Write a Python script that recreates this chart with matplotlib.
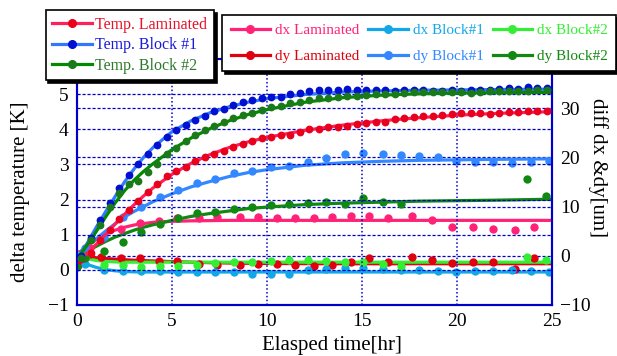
import matplotlib
matplotlib.use("Agg")
import matplotlib.pyplot as plt
from matplotlib.lines import Line2D
import numpy as np

plt.rcParams['font.family'] = ['Liberation Serif', 'DejaVu Serif']

# =========================
# temperature (left axis, K), sampled every 0.5 hr
# =========================
t_temp = [0.22, 0.72, 1.22, 1.72, 2.22, 2.72, 3.22, 3.72, 4.22, 4.72,
          5.22, 5.72, 6.22, 6.72, 7.22, 7.72, 8.22, 8.72, 9.22, 9.72,
          10.22, 10.72, 11.22, 11.72, 12.22, 12.72, 13.22, 13.72, 14.22, 14.72,
          15.22, 15.72, 16.22, 16.72, 17.22, 17.72, 18.22, 18.72, 19.22, 19.72,
          20.22, 20.72, 21.22, 21.72, 22.22, 22.72, 23.22, 23.72, 24.22, 24.72]

temp_lam = [0.30, 0.48, 0.85, 1.14, 1.45, 1.69, 1.97, 2.22, 2.45, 2.68,
            2.82, 2.93, 3.10, 3.21, 3.30, 3.38, 3.50, 3.59, 3.68, 3.74,
            3.79, 3.84, 3.85, 3.93, 4.01, 4.02, 4.06, 4.07, 4.10, 4.14,
            4.17, 4.20, 4.21, 4.29, 4.31, 4.35, 4.38, 4.37, 4.42, 4.44,
            4.45, 4.47, 4.47, 4.44, 4.47, 4.48, 4.48, 4.53, 4.52, 4.52]
temp_b1 = [0.40, 0.90, 1.42, 1.89, 2.34, 2.70, 3.00, 3.30, 3.54, 3.77,
           3.97, 4.11, 4.27, 4.39, 4.52, 4.59, 4.68, 4.78, 4.83, 4.88,
           4.91, 4.93, 5.01, 5.04, 5.09, 5.12, 5.12, 5.11, 5.14, 5.11,
           5.11, 5.13, 5.11, 5.10, 5.13, 5.12, 5.12, 5.08, 5.10, 5.11,
           5.10, 5.11, 5.12, 5.13, 5.16, 5.18, 5.16, 5.19, 5.18, 5.18]
temp_b2 = [0.35, 0.85, 1.28, 1.78, 2.19, 2.45, 2.54, 2.77, 3.01, 3.29,
           3.48, 3.68, 3.83, 3.97, 4.10, 4.20, 4.32, 4.40, 4.47, 4.56,
           4.63, 4.67, 4.74, 4.78, 4.82, 4.88, 4.90, 4.91, 4.95, 4.95,
           4.97, 4.99, 5.00, 5.01, 5.02, 5.05, 5.05, 5.05, 5.07, 5.07,
           5.05, 5.02, 5.07, 5.09, 5.09, 5.09, 5.10, 5.09, 5.11, 5.12]

# =========================
# displacement (right axis, um)
# =========================
t_lam = [0.04, 0.70, 1.25, 2.33, 3.33, 4.30, 5.28, 6.40, 7.39, 8.56,
         9.54, 10.51, 11.47, 12.45, 13.42, 14.40, 15.38, 16.37, 17.63, 18.70,
         19.76, 20.86, 21.91, 23.06, 24.06]
dx_lam = [0.3, 1.5, 3.45, 5.5, 6.6, 7.0, 7.6, 7.65, 7.8, 7.85,
          7.85, 7.65, 7.65, 7.6, 7.85, 8.0, 8.0, 7.65, 8.0, 7.2,
          5.8, 5.8, 5.4, 5.3, 5.95]
dy_lam = [-1.8, 0.34, -0.34, -0.47, -0.47, -1.0, -1.0, -1.62, -1.83, -1.96,
          -1.70, -1.70, -1.83, -2.05, -1.83, -1.29, -0.35, -1.29, -0.2, -0.95,
          -1.49, -1.29, -1.22, -2.64, -0.47]

t_b1 = [0.41, 1.43, 2.42, 3.38, 4.35, 5.32, 6.32, 7.28, 8.24, 9.22,
        10.19, 11.17, 12.14, 13.13, 14.10, 15.07, 16.08, 17.05, 18.02, 18.98,
        19.96, 20.95, 21.91, 22.90, 23.87, 24.86]
dx_b1 = [-1.6, -2.8, -3.0, -3.1, -3.0, -3.2, -3.2, -3.38, -3.32, -3.73,
         -3.73, -3.73, -2.98, -2.64, -2.5, -2.55, -2.71, -2.9, -2.98, -3.18,
         -3.32, -3.18, -3.18, -2.98, -3.05, -3.32]
dy_b1 = [1.55, 3.9, 7.8, 10.0, 11.9, 13.3, 14.8, 15.6, 16.8, 17.3,
         18.0, 18.3, 19.0, 19.8, 20.6, 20.8, 20.7, 20.4, 20.2, 20.0,
         19.3, 19.0, 19.0, 18.8, 19.0, 19.3]

t_b2 = [0.0, 0.41, 1.43, 2.42, 3.38, 4.35, 5.32, 6.32, 7.28, 8.24,
        9.22, 10.19, 11.17, 12.14, 13.13, 14.10, 15.07, 16.08, 17.05, 23.70,
        24.70]
dx_b2 = [0.1, -0.34, -1.83, -1.96, -2.37, -2.17, -2.17, -1.83, -1.49, -1.35,
         -1.29, -1.02, -0.95, -0.81, -1.1, -1.3, -1.2, -1.7, -2.05, -0.3,
         -0.9]
dy_b2 = [-2.2, -0.47, 1.0, 2.78, 4.8, 6.4, 7.6, 8.7, 9.0, 9.5,
         10.0, 10.4, 10.5, 10.7, 10.9, 10.5, 11.7, 11.0, 10.6, 15.6,
         12.2]

# =========================
# fitted curves
# =========================
t_fit = [0, 0.5, 1, 1.5, 2, 2.5, 3, 3.5, 4, 5, 6, 7, 8, 9, 10, 12, 14, 16, 18, 20, 22, 25]
fit_temp_lam = [0.25, 0.45, 0.72, 1.0, 1.3, 1.58, 1.85, 2.1, 2.33, 2.72, 3.03, 3.28, 3.48,
                3.64, 3.77, 3.97, 4.12, 4.24, 4.33, 4.4, 4.45, 4.5]
fit_temp_b1 = [0.3, 0.72, 1.2, 1.65, 2.08, 2.5, 2.87, 3.2, 3.48, 3.93, 4.24, 4.47, 4.64,
               4.77, 4.87, 4.99, 5.06, 5.09, 5.11, 5.12, 5.13, 5.14]
fit_temp_b2 = [0.3, 0.68, 1.08, 1.5, 1.9, 2.25, 2.55, 2.8, 3.02, 3.42, 3.75, 4.02, 4.24,
               4.42, 4.56, 4.77, 4.9, 4.97, 5.01, 5.03, 5.04, 5.05]
fit_dx_lam = [0.3, 1.9, 3.3, 4.4, 5.2, 5.8, 6.25, 6.55, 6.8, 7.0, 7.1, 7.15, 7.2,
              7.2, 7.2, 7.2, 7.2, 7.2, 7.2, 7.2, 7.2, 7.2]
fit_dy_lam = [0.2, -0.15, -0.4, -0.55, -0.68, -0.8, -0.9, -0.98, -1.05, -1.18, -1.3, -1.4,
              -1.47, -1.52, -1.56, -1.6, -1.62, -1.62, -1.62, -1.62, -1.62, -1.62]
fit_dx_b1 = [-0.8, -1.7, -2.35, -2.8, -3.05, -3.2, -3.27, -3.3, -3.3, -3.3, -3.3, -3.3,
             -3.3, -3.3, -3.3, -3.3, -3.3, -3.3, -3.3, -3.3, -3.3, -3.3]
fit_dy_b1 = [0.2, 1.8, 3.4, 5.0, 6.5, 7.9, 9.0, 10.0, 11.0, 12.6, 14.0, 15.1, 16.1,
             16.9, 17.5, 18.4, 18.9, 19.2, 19.4, 19.5, 19.6, 19.7]
fit_dx_b2 = [0.0, -0.55, -0.95, -1.15, -1.25, -1.3, -1.3, -1.3, -1.3, -1.3, -1.3, -1.3,
             -1.3, -1.3, -1.3, -1.3, -1.3, -1.3, -1.3, -1.3, -1.3, -1.3]
fit_dy_b2 = [-0.5, 0.8, 1.9, 2.9, 3.8, 4.5, 5.2, 5.8, 6.3, 7.2, 8.0, 8.6, 9.1,
             9.6, 9.9, 10.4, 10.7, 10.9, 11.1, 11.2, 11.3, 11.5]

x_ticks = [0, 5, 10, 15, 20, 25]
left_ticks = [-1, 0, 1, 2, 3, 4, 5]
right_ticks = [-10, 0, 10, 20, 30]

grid_blue = '#0000cc'

fig = plt.figure(figsize=(6.17, 3.56), dpi=100)
ax = fig.add_axes([0.1248, 0.1433, 0.7699, 0.691])
ax2 = ax.twinx()
ax.set_zorder(ax2.get_zorder() + 1)
ax.patch.set_visible(False)

# displacement on right axis
disp = [
    (t_lam, dx_lam, fit_dx_lam, '#ff2277', '#ff2277', 'dx Laminated'),
    (t_lam, dy_lam, fit_dy_lam, '#e00010', '#e00010', 'dy Laminated'),
    (t_b1, dx_b1, fit_dx_b1, '#12a8e8', '#12a8e8', 'dx Block#1'),
    (t_b1, dy_b1, fit_dy_b1, '#3388ff', '#3388ff', 'dy Block#1'),
    (t_b2, dx_b2, fit_dx_b2, '#33ee33', '#33ee33', 'dx Block#2'),
    (t_b2, dy_b2, fit_dy_b2, '#118811', '#118811', 'dy Block#2'),
]
handles2 = []
for tt, vals, fit, lc, mc, lab in disp:
    ax2.plot(t_fit, fit, color=lc, lw=2.3, zorder=2)
    ax2.plot(tt, vals, 'o', color=mc, ms=6, mew=0, zorder=3)
    handles2.append(Line2D([], [], color=lc, lw=2.3, marker='o', ms=5.5,
                           markerfacecolor=mc, markeredgecolor=mc, label=lab))

# temperature on left axis
temps = [
    (temp_lam, fit_temp_lam, '#ff1f5a', '#e8001c', 'Temp. Laminated'),
    (temp_b1, fit_temp_b1, '#3377ff', '#0010d0', 'Temp. Block #1'),
    (temp_b2, fit_temp_b2, '#008a00', '#1a7a1a', 'Temp. Block #2'),
]
handles1 = []
for vals, fit, lc, mc, lab in temps:
    ax.plot(t_fit, fit, color=lc, lw=2.3, zorder=2)
    ax.plot(t_temp, vals, 'o', color=mc, ms=5.6, mew=0, zorder=3)
    handles1.append(Line2D([], [], color=lc, lw=2.3, marker='o', ms=5.5,
                           markerfacecolor=mc, markeredgecolor=mc, label=lab))

ax.set_xlim(0, 25)
ax.set_ylim(-1, 6)
ax2.set_ylim(-10, 40)
ax.set_xticks(x_ticks)
ax.set_yticks(left_ticks)
ax2.set_yticks(right_ticks)

ax.grid(axis='x', color=grid_blue, ls=(0, (1, 1.5)), lw=1.1)
ax.grid(axis='y', color=grid_blue, ls=(0, (2.5, 1.5)), lw=0.9)
ax2.grid(axis='y', color=grid_blue, ls=(0, (2.5, 1.5)), lw=0.9)

for a in (ax, ax2):
    for sp in a.spines.values():
        sp.set_color(grid_blue)
        sp.set_linewidth(1.5)
    a.tick_params(direction='in', length=0, labelsize=14, pad=6)

ax.set_xlabel('Elasped time[hr]', fontsize=15)
ax.set_ylabel('delta temperature [K]', fontsize=15)
ax2.set_ylabel('diff dx &dy[um]', fontsize=15, rotation=270)
ax.xaxis.set_label_coords(0.537, -0.128)
ax.yaxis.set_label_coords(-0.098, 0.46)
ax2.yaxis.set_label_coords(1.118, 0.557)

shadow = {'color': 'black', 'alpha': 1.0}
leg1 = fig.legend(handles=handles1, loc='upper left', bbox_to_anchor=(0.074, 0.972),
                  fontsize=11.5, frameon=True, fancybox=False, shadow=shadow,
                  edgecolor='black', handlelength=2.5, handletextpad=0.2,
                  labelspacing=0.28, borderpad=0.42, borderaxespad=0)
leg1.get_frame().set_linewidth(1.2)
for txt, c in zip(leg1.get_texts(), ['#e8102a', '#1a1add', '#2a7a2a']):
    txt.set_color(c)

leg2 = fig.legend(handles=handles2, loc='upper left', bbox_to_anchor=(0.36, 0.958),
                  ncol=3, fontsize=11, frameon=True, fancybox=False, shadow=shadow,
                  edgecolor='black', handlelength=2.6, handletextpad=0.3,
                  labelspacing=0.8, columnspacing=0.6, borderpad=0.55, borderaxespad=0)
leg2.get_frame().set_linewidth(1.2)
for txt, c in zip(leg2.get_texts(), ['#ff2277', '#e00010', '#12a8e8', '#3388ff', '#33ee33', '#118811']):
    txt.set_color(c)

fig.savefig('out.png', dpi=100)
